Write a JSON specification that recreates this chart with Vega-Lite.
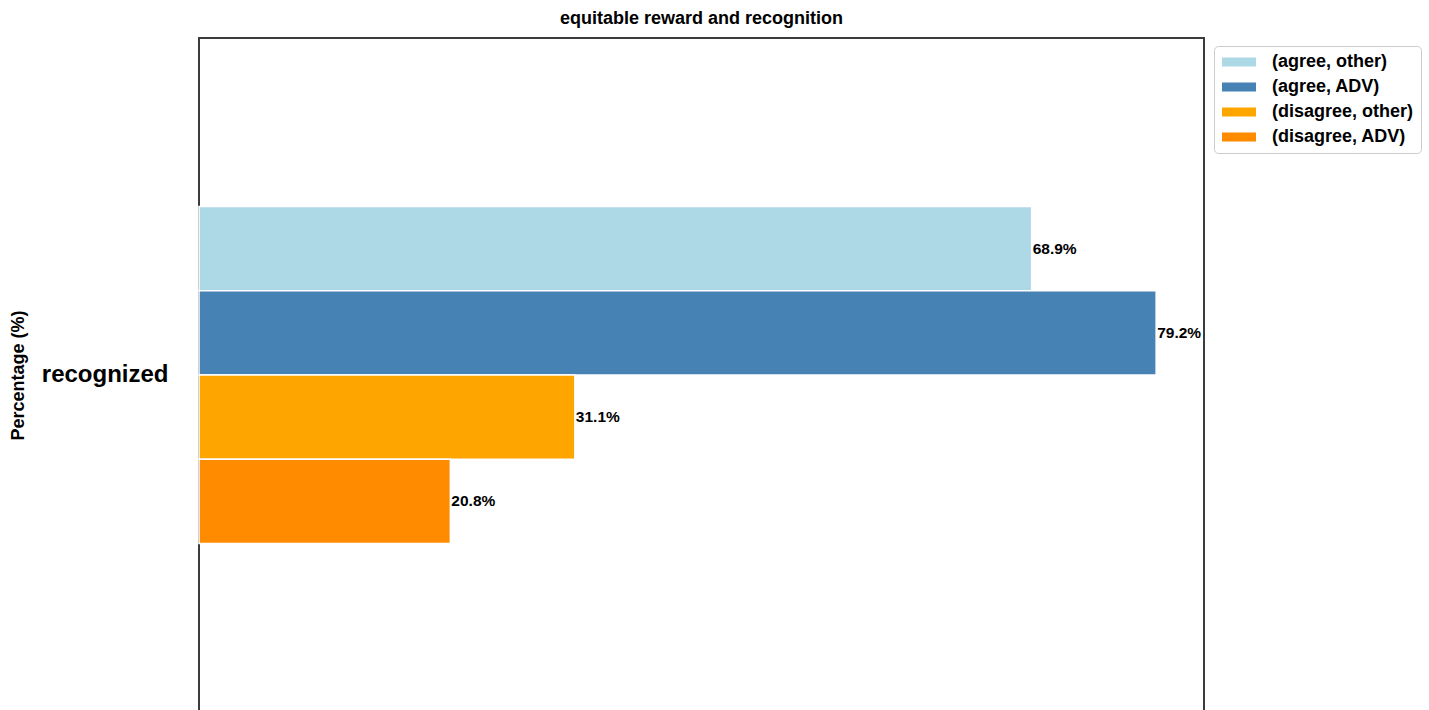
{
  "$schema": "https://vega.github.io/schema/vega-lite/v6.json",
  "autosize": "none",
  "width": 1005,
  "height": 674,
  "padding": {"left": 199, "top": 38, "right": 225, "bottom": -2},
  "background": "white",
  "title": {"text": "equitable reward and recognition", "fontSize": 18, "fontWeight": "bold", "font": "Liberation Sans", "color": "black", "offset": 10},
  "config": {
    "view": {"stroke": "#3c3c3c", "strokeWidth": 2},
    "font": "Liberation Sans"
  },
  "data": {
    "values": [
      {"question": "recognized", "group": "(agree, other)", "pct": 68.9, "label": "68.9%"},
      {"question": "recognized", "group": "(agree, ADV)", "pct": 79.2, "label": "79.2%"},
      {"question": "recognized", "group": "(disagree, other)", "pct": 31.1, "label": "31.1%"},
      {"question": "recognized", "group": "(disagree, ADV)", "pct": 20.8, "label": "20.8%"}
    ]
  },
  "encoding": {
    "y": {
      "field": "question",
      "type": "nominal",
      "scale": {"paddingOuter": 0.5, "paddingInner": 0},
      "axis": {
        "title": "Percentage (%)",
        "titleFontSize": 18,
        "titleFontWeight": "bold",
        "titleColor": "black",
        "titlePadding": 14,
        "labelFontSize": 24,
        "labelFontWeight": "bold",
        "labelColor": "black",
        "labelPadding": 31,
        "ticks": false,
        "domain": false,
        "grid": false
      }
    },
    "yOffset": {
      "field": "group",
      "type": "nominal",
      "sort": ["(agree, other)", "(agree, ADV)", "(disagree, other)", "(disagree, ADV)"],
      "scale": {"paddingInner": 0, "paddingOuter": 0}
    },
    "x": {
      "field": "pct",
      "type": "quantitative",
      "scale": {"domain": [0, 83.16], "nice": false, "zero": true},
      "axis": null
    }
  },
  "layer": [
    {
      "mark": {"type": "bar", "stroke": "white", "strokeWidth": 1.5},
      "encoding": {
        "color": {
          "field": "group",
          "type": "nominal",
          "sort": ["(agree, other)", "(agree, ADV)", "(disagree, other)", "(disagree, ADV)"],
          "scale": {
            "domain": ["(agree, other)", "(agree, ADV)", "(disagree, other)", "(disagree, ADV)"],
            "range": ["#add8e6", "#4682b4", "#ffa500", "#ff8c00"]
          },
          "legend": {
            "title": null,
            "orient": "none",
            "legendX": 1015,
            "legendY": 8,
            "padding": 7,
            "strokeColor": "#cccccc",
            "cornerRadius": 4,
            "fillColor": "white",
            "symbolType": "M-3.4,-0.9H3.4V0.9H-3.4Z",
            "symbolSize": 100,
            "symbolStrokeWidth": 0,
            "symbolOffset": 9,
            "labelOffset": 24,
            "labelFontSize": 18,
            "labelFontWeight": "bold",
            "labelColor": "black",
            "rowPadding": 7
          }
        }
      }
    },
    {
      "mark": {"type": "text", "align": "left", "baseline": "middle", "dx": 1, "fontSize": 15.5, "fontWeight": "bold", "color": "black"},
      "encoding": {"text": {"field": "label"}}
    }
  ]
}
